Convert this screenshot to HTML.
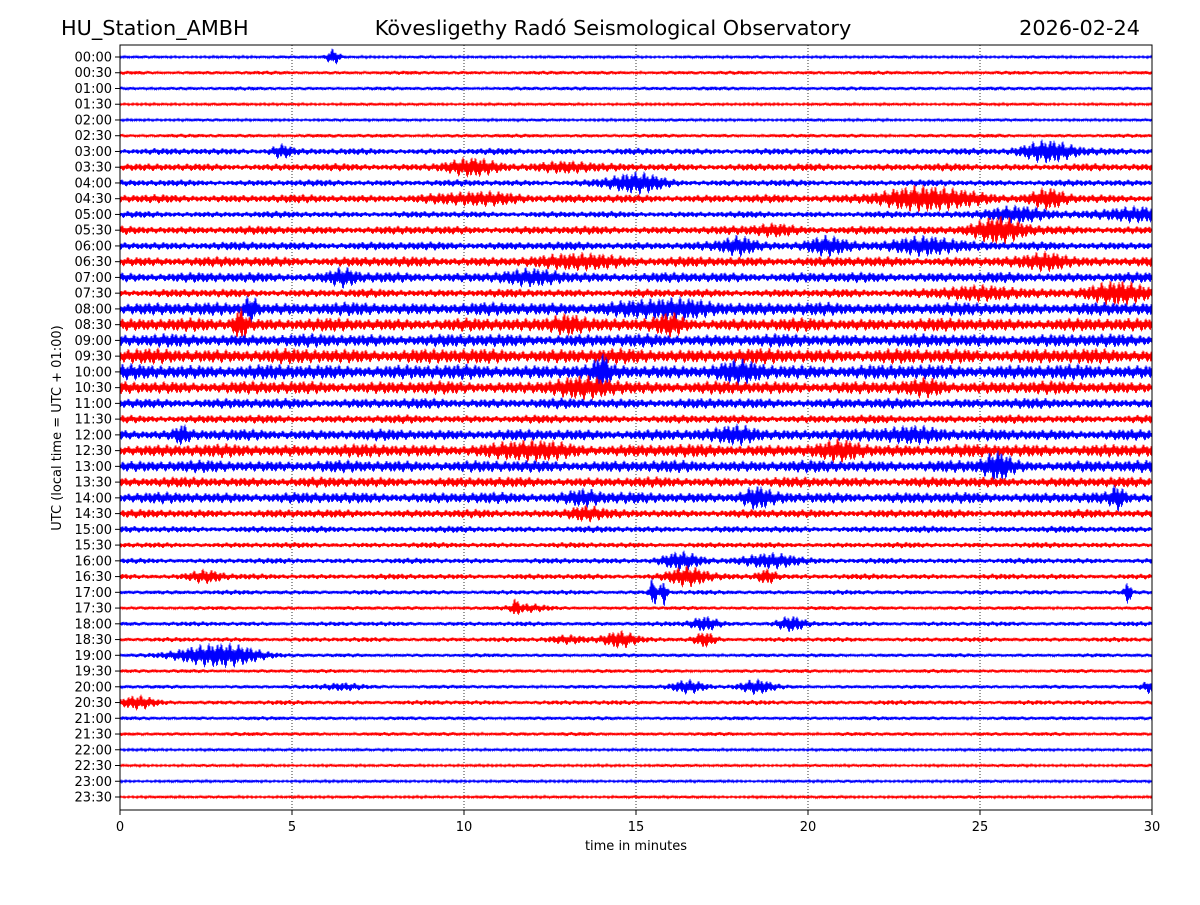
<!DOCTYPE html>
<html><head><meta charset="utf-8"><style>
body{margin:0;background:#fff;}
svg text{font-family:"DejaVu Sans","Liberation Sans",sans-serif;}
</style></head><body>
<svg id="chart" width="1200" height="900" xmlns="http://www.w3.org/2000/svg">
<rect width="1200" height="900" fill="#fff"/>
<text x="61" y="35" font-size="20.8">HU_Station_AMBH</text>
<text x="613" y="35" font-size="20.8" text-anchor="middle">Kövesligethy Radó Seismological Observatory</text>
<text x="1140" y="35" font-size="20.8" text-anchor="end">2026-02-24</text>
<g id="grid"></g>
<g id="traces"></g>
<rect x="120" y="45" width="1032" height="765" fill="none" stroke="#000" stroke-width="1"/>
<g id="axes"></g>
<text x="636" y="850" font-size="13" text-anchor="middle">time in minutes</text>
<text transform="translate(61,428) rotate(-90)" font-size="13" text-anchor="middle">UTC (local time = UTC + 01:00)</text>
</svg>
<script>
const rowLabels = [];
for (let h = 0; h < 24; h++) { const hh = String(h).padStart(2,'0'); rowLabels.push(hh+':00', hh+':30'); }
const xTicks = [0,5,10,15,20,25,30];
const baseAmp = [1.5,2,2,1.5,1.5,2,3.5,4,3.5,4.5,3.5,4.5,4.5,5.5,5.5,4.5,7,7,7,8,8,7,5.5,4.5,6,7,6.5,5.5,6,4.5,3.5,3,3,3,2.5,2,2.5,2.5,2,2,2,2.5,2,2,1.5,1.5,1.5,1.5];
const events = {
 0:[[6.2,7,0.2]], 6:[[27,9,0.8],[4.7,5,0.3]], 7:[[10.2,6,0.8],[13,4,0.8]], 8:[[15,8,0.8]],
 9:[[23.5,9,1.5],[27,7,0.5],[10.5,4,1.2]], 10:[[29.5,6,1],[26,6,1]], 11:[[25.5,10,0.8],[19,4,0.6]],
 12:[[18,7,0.5],[20.5,7,0.6],[23.5,7,1]], 13:[[27,6,0.6],[13.5,5,1]], 14:[[6.5,6,0.4],[12,4,1]],
 15:[[29,8,1],[25,4,1.5]], 16:[[3.8,10,0.2],[16,5,1.5]], 17:[[3.5,12,0.2],[13,7,0.5],[16,6,0.4]], 20:[[14,12,0.2],[18,5,0.6]],
 21:[[13.5,5,1],[23.5,4,0.5]],
 24:[[18,6,0.6],[1.8,6,0.2],[23,5,1]], 25:[[12,5,1],[21,5,0.6]], 26:[[25.5,10,0.4]], 28:[[29,8,0.2],[18.5,7,0.4],[13.5,5,0.5]],
 29:[[13.5,5,0.5]],
 32:[[16.3,7,0.6],[19,6,0.8]], 33:[[16.5,8,0.6],[2.5,5,0.5],[18.8,6,0.3]],
 34:[[15.5,14,0.1],[15.8,12,0.1],[29.3,10,0.1]], 35:[[11.5,6,0.1],[11.8,3,0.6]],
 36:[[17,6,0.4],[19.5,6,0.4]], 37:[[14.5,7,0.5],[17,6,0.3],[13,3,0.6]], 38:[[2.5,8,1],[3.5,6,0.8]],
 40:[[16.5,6,0.5],[18.5,6,0.5],[30,6,0.3],[6.5,3,0.6]], 41:[[0.5,5,0.5]]
};
const NS='http://www.w3.org/2000/svg';
const X0=120,X1=1152,Y0=57,Y1=797;
const xs = m => X0 + (X1-X0)*m/30;
const ys = r => Y0 + (Y1-Y0)*r/(rowLabels.length-1);
const grid=document.getElementById('grid'), axes=document.getElementById('axes'), tr=document.getElementById('traces');
xTicks.forEach(t=>{
  if(t>0&&t<30){const l=document.createElementNS(NS,'line');
  l.setAttribute('x1',xs(t));l.setAttribute('x2',xs(t));l.setAttribute('y1',45);l.setAttribute('y2',810);
  l.setAttribute('stroke','#000');l.setAttribute('stroke-width','0.8');l.setAttribute('stroke-dasharray','1,2');
  
  
  grid.appendChild(l);}
  const k=document.createElementNS(NS,'line');
  k.setAttribute('x1',xs(t));k.setAttribute('x2',xs(t));k.setAttribute('y1',810);k.setAttribute('y2',815);k.setAttribute('stroke','#000');
  
  
  axes.appendChild(k);
  const tx=document.createElementNS(NS,'text');
  tx.setAttribute('x',xs(t));tx.setAttribute('y',831);tx.setAttribute('font-size','13');tx.setAttribute('text-anchor','middle');tx.textContent=t;
  
  
  axes.appendChild(tx);
});
rowLabels.forEach((lab,r)=>{
  const y=ys(r);
  const k=document.createElementNS(NS,'line');
  k.setAttribute('x1',115);k.setAttribute('x2',120);k.setAttribute('y1',y);k.setAttribute('y2',y);k.setAttribute('stroke','#000');
  
  
  axes.appendChild(k);
  const tx=document.createElementNS(NS,'text');
  tx.setAttribute('x',112);tx.setAttribute('y',y+4.5);tx.setAttribute('font-size','13');tx.setAttribute('text-anchor','end');tx.textContent=lab;
  
  
  axes.appendChild(tx);
  const ev=events[r]||[];
  let d='';
  const N=(X1-X0)*2;
  for(let i=0;i<=N;i++){
    const m=30*i/N;
    let b=baseAmp[r]*(0.8+0.2*Math.sin(m*2.3+r*1.3)*Math.sin(m*0.9+r*0.7));
    let a=b;
    ev.forEach(e=>{const z=(m-e[0])/e[2];a+=e[1]*Math.exp(-z*z);});
    const tex=0.35+0.75*Math.abs(Math.sin(i*1.73+r*2.1)*Math.cos(i*0.37+r));
    const s=(i%2?1:-1);
    d+=(i?'L':'M')+xs(m).toFixed(1)+','+(y+s*a*tex).toFixed(1);
  }
  const p=document.createElementNS(NS,'path');
  p.setAttribute('d',d);p.setAttribute('fill','none');p.setAttribute('stroke',r%2?'#ff0000':'#0000ff');p.setAttribute('stroke-width','0.8');
  
  
  tr.appendChild(p);
});
</script>
</body></html>
